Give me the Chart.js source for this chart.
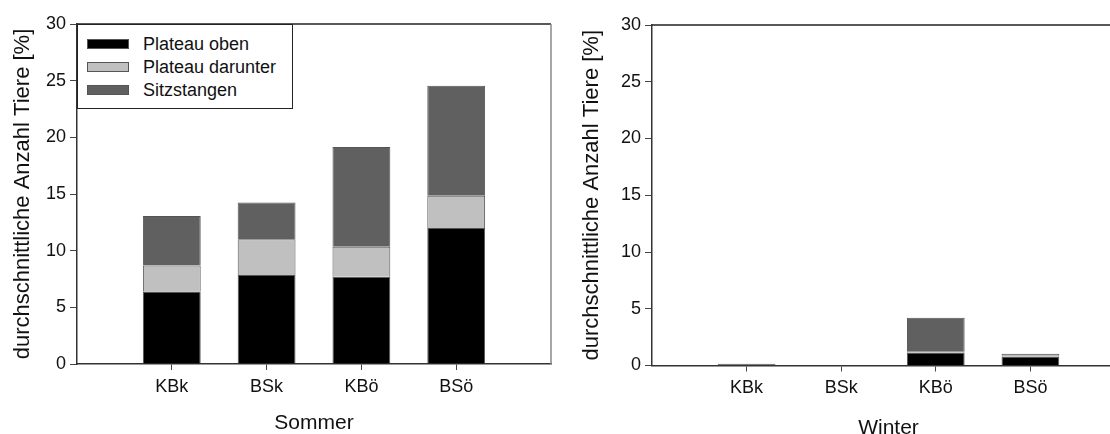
<!DOCTYPE html>
<html>
<head>
<meta charset="utf-8">
<script src="https://cdn.jsdelivr.net/npm/chart.js@4"></script>
<style>
  html, body { margin:0; padding:0; background:#fff; width:1110px; height:434px; overflow:hidden; }
  #wrap { position:relative; width:1110px; height:434px; overflow:hidden; }
  #c1 { position:absolute; left:0; top:0; }
  #c2 { position:absolute; left:560px; top:0; }
  .legend { position:absolute; background:#fff; border:1.5px solid #222; box-sizing:border-box;
            font-family:"Liberation Sans", Arial, sans-serif; font-size:18px; color:#111; }
  .legend .row { position:absolute; left:9px; height:22px; display:flex; align-items:center; white-space:nowrap; }
  .legend .sw { width:40px; height:8px; border:1px solid #555; margin-right:14px; }
</style>
</head>
<body>
<div id="wrap">
  <canvas id="c1" width="560" height="434"></canvas>
  <canvas id="c2" width="600" height="434"></canvas>
  <div id="legend1" class="legend"></div>
</div>
<script>
// ---- data ----
const categories = ['KBk', 'BSk', 'KBö', 'BSö'];
const seriesNames = ['Plateau oben', 'Plateau darunter', 'Sitzstangen'];
const seriesColors = ['#000000', '#c0c0c0', '#606060'];
const sommerOben = [6.4, 7.85, 7.7, 12.0];
const sommerDarunter = [2.3, 3.15, 2.65, 2.85];
const sommerSitz = [4.35, 3.25, 8.8, 9.7];
const winterOben = [0.05, 0, 1.15, 0.8];
const winterDarunter = [0, 0, 0.1, 0.1];
const winterSitz = [0.1, 0, 2.95, 0.13];
const yTickValues = [0, 5, 10, 15, 20, 25, 30];
const yTitle = 'durchschnittliche Anzahl Tiere [%]';

const FONT = '"Liberation Sans", Arial, sans-serif';

const framePlugin = {
  id: 'frame',
  afterDraw(chart) {
    const a = chart.chartArea, ctx = chart.ctx;
    ctx.save();
    ctx.lineWidth = 1.5;
    ctx.strokeStyle = '#222';
    ctx.beginPath();
    ctx.moveTo(a.left, a.top);
    ctx.lineTo(a.right, a.top);
    ctx.stroke();
    ctx.strokeStyle = '#888';
    ctx.beginPath();
    ctx.moveTo(a.right, a.top);
    ctx.lineTo(a.right, a.bottom);
    ctx.stroke();
    ctx.restore();
  }
};

function pad(arr) { return [null, ...arr, null]; }

function makeChart(id, series, xTitle, g) {
  const labels = ['', ...categories, ''];
  const datasets = series.map((vals, i) => ({
    label: seriesNames[i],
    data: pad(vals),
    backgroundColor: seriesColors[i],
    borderColor: '#555',
    borderWidth: 1,
    barPercentage: 0.61,
    categoryPercentage: 1.0
  }));
  return new Chart(document.getElementById(id), {
    type: 'bar',
    data: { labels, datasets },
    plugins: [framePlugin],
    options: {
      responsive: false,
      devicePixelRatio: 1,
      animation: false,
      layout: { padding: { left: 0, top: g.top, right: g.right, bottom: 0 } },
      plugins: { legend: { display: false }, tooltip: { enabled: false } },
      scales: {
        x: {
          stacked: true,
          offset: false,
          grid: {
            offset: false,
            drawOnChartArea: false,
            drawTicks: true,
            tickLength: 6,
            color: (c) => (c.index >= 1 && c.index <= categories.length) ? '#444' : 'rgba(0,0,0,0)'
          },
          border: { display: true, color: '#333', width: 1.5 },
          ticks: { color: '#111', font: { family: FONT, size: 18 }, padding: 6, maxRotation: 0, autoSkip: false },
          title: { display: true, text: xTitle, color: '#111', font: { family: FONT, size: 21 }, padding: { top: 0, bottom: g.xtp } },
          afterFit: (s) => { s.height = g.xh; }
        },
        y: {
          stacked: true,
          min: 0, max: 30,
          afterBuildTicks: (s) => { s.ticks = yTickValues.map(v => ({ value: v })); },
          grid: { drawOnChartArea: false, drawTicks: true, tickLength: 7, color: '#444' },
          border: { display: true, color: '#333', width: 1.5 },
          ticks: { color: '#111', font: { family: FONT, size: 18 }, padding: 4 },
          title: { display: true, text: yTitle, color: '#111', font: { family: FONT, size: 22 }, padding: { top: g.ytp, bottom: 0 } },
          afterFit: (s) => { s.width = g.yw; }
        }
      }
    }
  });
}

const ch1 = makeChart('c1', [sommerOben, sommerDarunter, sommerSitz], 'Sommer',
  { top: 24, right: 9, xh: 70, yw: 77, xtp: -2, ytp: 10 });
const ch2 = makeChart('c2', [winterOben, winterDarunter, winterSitz], 'Winter',
  { top: 25, right: 35, xh: 68.5, yw: 92, xtp: -7, ytp: 19 });

// HTML legend built from dataset labels/colors
(function () {
  const a = ch1.chartArea;
  const lg = document.getElementById('legend1');
  lg.style.left = a.left + 'px';
  lg.style.top = a.top + 'px';
  lg.style.width = '216px';
  lg.style.height = '85px';
  ch1.data.datasets.forEach((ds, i) => {
    const row = document.createElement('div');
    row.className = 'row';
    row.style.top = (8 + i * 23) + 'px';
    const sw = document.createElement('div');
    sw.className = 'sw';
    sw.style.background = ds.backgroundColor;
    const tx = document.createElement('span');
    tx.textContent = ds.label;
    row.appendChild(sw);
    row.appendChild(tx);
    lg.appendChild(row);
  });
})();
</script>
</body>
</html>
